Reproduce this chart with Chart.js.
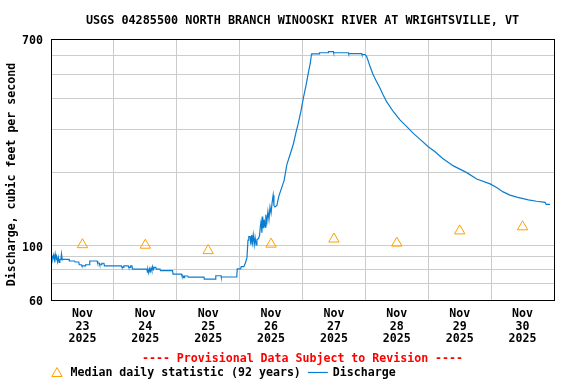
<!DOCTYPE html>
<html>
<head>
<meta charset="utf-8">
<script src="https://cdn.jsdelivr.net/npm/chart.js@4.4.1/dist/chart.umd.min.js"></script>
<style>
html,body{margin:0;padding:0;background:#ffffff;}
#wrap{width:576px;height:384px;}
canvas{display:block;}
</style>
</head>
<body>
<div id="wrap"><canvas id="c" width="576" height="384"></canvas></div>
<script>
// ---------- data ----------
const titleText = 'USGS 04285500 NORTH BRANCH WINOOSKI RIVER AT WRIGHTSVILLE, VT';
const yAxisTitle = 'Discharge, cubic feet per second';
const provisionalText = '---- Provisional Data Subject to Revision ----';
const medianLabel = 'Median daily statistic (92 years)';
const dischargeLabel = 'Discharge';
const monthLabel = 'Nov';
const yearLabel = '2025';
const dayLabels = ['23', '24', '25', '26', '27', '28', '29', '30'];

// hours since Nov 23 2025 00:00
const medianHours = [12, 36, 60, 84, 108, 132, 156, 180];
const medianCfs = [101, 100.5, 95.5, 101.5, 106.5, 102.5, 115, 119.5];

const yGridValues = [60, 70, 80, 90, 100, 200, 300, 400, 500, 600, 700];
const yLabelValues = [60, 100, 700];

const dischargeHours = [
  0, 0.5, 0.7, 1.0, 1.3, 1.6, 1.9, 2.2, 2.5, 2.8, 3.1, 3.4, 3.8, 4.0, 4.3, 4.6,
  6.9, 7.0, 9.0, 9.2, 10.6, 10.8, 11.6, 11.8, 13.0, 13.2, 14.6, 14.8, 17.6, 17.8,
  18.4, 18.6, 19.2, 19.4, 20.2, 20.4, 26.9, 27.1, 27.6, 27.8, 29.5, 29.7, 30.2,
  30.4, 30.9, 31.1, 36.6, 36.8, 37.0, 37.3, 37.6, 37.9, 38.2, 38.5, 38.8, 39.1,
  39.4, 40.0, 40.2, 41.6, 41.8, 46.4, 46.6, 49.8, 50.0, 50.5, 50.6, 50.9, 51.0,
  52.2, 52.4, 58.4, 58.5, 62.8, 62.9, 64.9, 65.0, 70.9, 71.1, 72.4, 72.6, 73.6,
  74.2, 74.8, 75.2, 75.5, 76.0, 76.3, 76.6, 76.9, 77.2, 77.6, 77.9, 78.3, 78.6,
  79.2, 79.6, 79.9, 80.2, 80.5, 80.8, 81.1, 81.4, 81.7, 82.0, 82.4, 82.8, 83.2,
  83.6, 84.0, 84.4, 84.8, 85.1, 85.5, 86.2, 87.0, 88.0, 89.0, 90.0, 91.2, 92.5,
  93.5, 94.4, 95.4, 96.3, 97.3, 98.2, 99.0, 99.4, 99.5, 102.4, 102.5, 105.8,
  105.9, 107.8, 107.9, 113.5, 113.6, 118.6, 118.7, 119.9, 120.5, 121.8, 123.0,
  124.3, 125.6, 126.8, 128.1, 130.7, 133.2, 135.8, 138.3, 140.9, 144.0, 146.6,
  149.4, 153.6, 158.7, 162.5, 167.6, 170.1, 172.6, 175.2, 177.8, 182.2, 185.4,
  188.6, 189.0, 190.5
];
const dischargeCfs = [
  90.8, 90.8, 88.5, 91.5, 87.5, 92.5, 88, 90, 86, 89.5, 85.5, 88, 88, 92.5, 87.5, 88,
  88, 86.6, 86.6, 85.8, 85.8, 83.6, 83.6, 82.7, 82.7, 83.6, 83.6, 86.6, 86.6, 85,
  85, 83.6, 83.6, 84.8, 84.8, 82.7, 82.7, 81.6, 81.6, 82.7, 82.7, 81.5, 81.5,
  82.7, 82.7, 80.3, 80.3, 78, 80, 77.5, 80.5, 78.5, 81, 79, 82.2, 80,
  81.5, 81.5, 80.3, 80.3, 79.1, 79.1, 76.6, 76.6, 75.2, 75.2, 74.0, 74.0, 75.2,
  75.2, 74.4, 74.4, 73.0, 73.0, 75.4, 75.4, 74.5, 74.5, 80.5, 80.5, 82.1, 82.1,
  85, 89.4, 105.5, 108.9, 108.9, 101, 110.6, 103, 110.6, 101, 108, 100.7, 106,
  107, 110, 119.6, 126, 113, 131.5, 118, 128, 119, 134, 125, 138, 128,
  144, 136, 150, 161, 146, 144, 146, 160, 172, 185, 214, 235, 260,
  290, 317, 355, 400, 450, 507, 560, 602, 608, 608, 615, 615,
  621, 621, 615, 615, 610, 610, 605, 605, 593, 540, 499,
  468, 440, 413, 388, 353, 327, 307, 288, 272, 254, 242,
  228, 212, 199, 187.5, 179, 173, 166, 161, 158, 154, 152,
  150.5, 147.7, 147.7
];

// ---------- styles ----------
const FONT_FAMILY = '"DejaVu Sans Mono", "Liberation Mono", monospace';
const lineColor = '#0a7dd0';
const medianColor = '#ffa000';
const gridColor = '#cccccc';

const dischargePoints = dischargeHours.map((h, i) => ({ x: h, y: dischargeCfs[i] }));
const medianPoints = medianHours.map((h, i) => ({ x: h, y: medianCfs[i] }));

const framePlugin = {
  id: 'frame',
  afterDatasetsDraw(chart) {
    const { ctx, chartArea: a } = chart;
    ctx.save();
    ctx.strokeStyle = '#000000';
    ctx.lineWidth = 1;
    ctx.strokeRect(Math.round(a.left) + 0.5, Math.round(a.top) + 0.5,
      Math.round(a.right - a.left), Math.round(a.bottom - a.top));
    ctx.restore();
  }
};

const textPlugin = {
  id: 'texts',
  afterDraw(chart) {
    const { ctx, chartArea: a } = chart;
    const cx = (a.left + a.right) / 2;
    ctx.save();
    ctx.textBaseline = 'middle';
    ctx.textAlign = 'center';
    ctx.fillStyle = '#000000';
    ctx.font = 'bold 11.8px ' + FONT_FAMILY;
    ctx.fillText(titleText, cx, a.top - 18.5);

    // y axis title
    ctx.font = 'bold 11.6px ' + FONT_FAMILY;
    ctx.save();
    ctx.translate(11.5, (a.top + a.bottom) / 2 + 5);
    ctx.rotate(-Math.PI / 2);
    ctx.fillText(yAxisTitle, 0, 0);
    ctx.restore();

    ctx.fillStyle = '#ff0000';
    ctx.fillText(provisionalText, cx, a.bottom + 59);

    // legend
    const ly = a.bottom + 72.5;
    const tx = a.left + 6, r = 6;
    ctx.strokeStyle = medianColor;
    ctx.lineWidth = 1;
    ctx.beginPath();
    ctx.moveTo(tx, ly - r + 1);
    ctx.lineTo(tx + r * 0.866, ly + r / 2 + 1);
    ctx.lineTo(tx - r * 0.866, ly + r / 2 + 1);
    ctx.closePath();
    ctx.stroke();

    ctx.textAlign = 'left';
    ctx.fillStyle = '#000000';
    ctx.fillText(medianLabel, a.left + 19.5, ly);
    const w = ctx.measureText(medianLabel).width;
    const lx = a.left + 19.5 + w + 7;
    ctx.strokeStyle = lineColor;
    ctx.lineWidth = 1.2;
    ctx.beginPath();
    ctx.moveTo(lx, ly);
    ctx.lineTo(lx + 20, ly);
    ctx.stroke();
    ctx.fillText(dischargeLabel, lx + 25, ly);
    ctx.restore();
  }
};

new Chart(document.getElementById('c'), {
  type: 'scatter',
  data: {
    datasets: [
      {
        type: 'line',
        label: dischargeLabel,
        data: dischargePoints,
        borderColor: lineColor,
        borderWidth: 1.2,
        pointRadius: 0,
        tension: 0,
        fill: false,
        order: 2
      },
      {
        type: 'scatter',
        label: medianLabel,
        data: medianPoints,
        pointStyle: 'triangle',
        pointRadius: 6,
        borderColor: medianColor,
        backgroundColor: 'rgba(0,0,0,0)',
        borderWidth: 1,
        order: 1
      }
    ]
  },
  options: {
    responsive: false,
    animation: false,
    devicePixelRatio: 1,
    layout: { padding: { top: 39, right: 22, bottom: 0, left: 0 } },
    plugins: {
      legend: { display: false },
      tooltip: { enabled: false },
      title: { display: false }
    },
    scales: {
      x: {
        type: 'linear',
        min: 0,
        max: 192,
        afterFit(scale) { scale.height = 84; },
        border: { display: false },
        grid: {
          drawTicks: false,
          lineWidth: 1,
          color: (ctx) => (ctx.tick && ctx.tick.value % 24 === 0) ? gridColor : 'rgba(0,0,0,0)'
        },
        ticks: {
          stepSize: 12,
          autoSkip: false,
          maxRotation: 0,
          minRotation: 0,
          padding: 7,
          color: '#000000',
          font: { family: FONT_FAMILY, size: 11.6, weight: 'bold', lineHeight: 1.12 },
          callback: (v) => (v % 24 === 12) ? [monthLabel, dayLabels[(v - 12) / 24], yearLabel] : ''
        }
      },
      y: {
        type: 'logarithmic',
        min: 60,
        max: 700,
        afterFit(scale) { scale.width = 51; },
        afterBuildTicks(scale) { scale.ticks = yGridValues.map(v => ({ value: v })); },
        border: { display: false },
        grid: { drawTicks: false, color: gridColor, lineWidth: 1 },
        title: { display: false },
        ticks: {
          autoSkip: false,
          padding: 8,
          labelOffset: 2,
          color: '#000000',
          font: { family: FONT_FAMILY, size: 11.6, weight: 'bold' },
          callback: (v) => yLabelValues.includes(v) ? String(v) : ''
        }
      }
    }
  },
  plugins: [framePlugin, textPlugin]
});
</script>
</body>
</html>
